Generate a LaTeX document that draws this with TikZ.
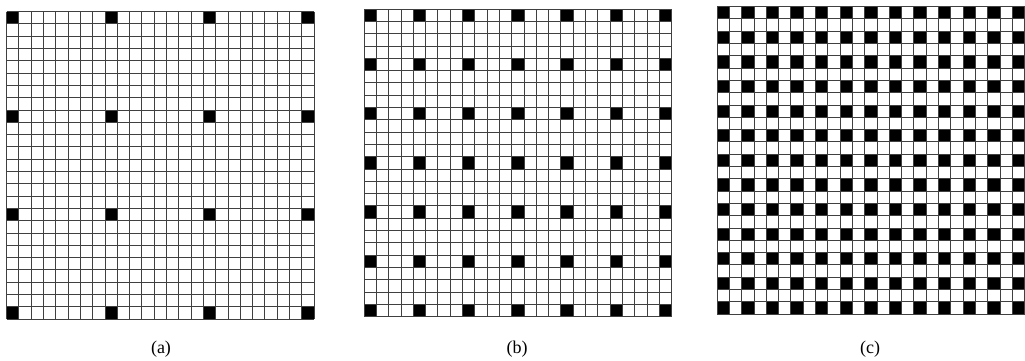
\documentclass[tikz,border=0pt]{standalone}
\usepackage{fontspec}
\setmainfont{Liberation Serif}
\begin{document}
\begin{tikzpicture}[x=1pt,y=-1pt,
  gridline/.style={draw=black!75, line width=0.7pt},
  blackcell/.style={fill=black},
  caption/.style={font=\fontsize{18}{21}\selectfont, anchor=center}]
\useasboundingbox (0,0) rectangle (1025,360);
% cell size
\def\cs{12.3}
% grid macro: #1 x0, #2 y0, #3 period
\newcommand{\mygrid}[3]{%
  \foreach \i in {0,#3,...,24}{
    \foreach \j in {0,#3,...,24}{
      \fill[blackcell] ({#1+\i*\cs},{#2+\j*\cs}) rectangle ++(\cs,\cs);
    }
  }
  \foreach \k in {0,...,25}{
    \draw[gridline] ({#1+\k*\cs},{#2}) -- ({#1+\k*\cs},{#2+25*\cs});
    \draw[gridline] ({#1},{#2+\k*\cs}) -- ({#1+25*\cs},{#2+\k*\cs});
  }
}
\mygrid{6.5}{11.5}{8}
\mygrid{364}{9}{4}
\mygrid{717}{6.5}{2}
\node[caption] (la) at (161,349) {(a)};
\node[caption] (lb) at (517,349) {(b)};
\node[caption] (lc) at (870,349) {(c)};
\end{tikzpicture}
\end{document}
